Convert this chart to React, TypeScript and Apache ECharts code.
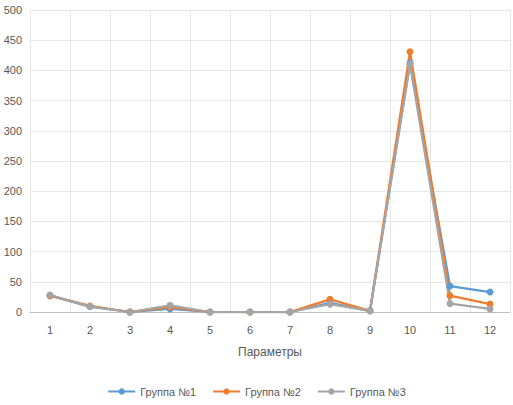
import React, { useEffect, useRef } from "react";
import * as echarts from "echarts";

const categories = ["1", "2", "3", "4", "5", "6", "7", "8", "9", "10", "11", "12"];
const group1 = [27, 9, 0, 5, 0, 0, 0, 15, 2, 412, 43, 33];
const group2 = [27, 10, 0, 8, 0, 0, 0, 21, 2, 431, 27, 13];
const group3 = [28, 9, 0, 11, 0, 0, 0, 13, 2, 410, 14, 5];
const seriesNames = ["Группа №1", "Группа №2", "Группа №3"];
const colors = ["#5B9BD5", "#ED7D31", "#A5A5A5"];
const axisTitle = "Параметры";

export default function App() {
  const ref = useRef<HTMLDivElement>(null);
  useEffect(() => {
    if (!ref.current) return;
    const chart = echarts.init(ref.current, undefined, { renderer: "svg" });
    const font = "'Liberation Sans', Arial, sans-serif";
    const data = [group1, group2, group3];
    chart.setOption({
      animation: false,
      textStyle: { fontFamily: font },
      grid: { left: 30, right: 3, top: 10, bottom: 93, containLabel: false },
      legend: {
        bottom: 3,
        left: "center",
        itemWidth: 27,
        itemHeight: 8,
        itemGap: 16,
        itemTextGap: 2,
        textStyle: { color: "#595959", fontSize: 11, fontFamily: font },
        data: seriesNames,
      },
      xAxis: {
        type: "category",
        data: categories,
        boundaryGap: true,
        name: axisTitle,
        nameLocation: "middle",
        nameGap: 34,
        nameTextStyle: { color: "#595959", fontSize: 12, fontFamily: font },
        axisLine: { lineStyle: { color: "#BFBFBF" } },
        axisTick: { show: false },
        axisLabel: { color: "#595959", fontSize: 11, margin: 12 },
        splitLine: { show: true, lineStyle: { color: "#E6E6E6" } },
      },
      yAxis: {
        type: "value",
        min: 0,
        max: 500,
        interval: 50,
        axisLine: { show: false },
        axisTick: { show: false },
        axisLabel: { color: "#595959", fontSize: 11, margin: 8 },
        splitLine: { lineStyle: { color: "#E6E6E6" } },
      },
      series: data.map((d, i) => ({
        name: seriesNames[i],
        type: "line",
        data: d,
        symbol: "circle",
        symbolSize: 7,
        itemStyle: { color: colors[i] },
        lineStyle: { color: colors[i], width: 2.25 },
      })),
    });
    return () => chart.dispose();
  }, []);
  return <div ref={ref} style={{ width: 513, height: 405, position: "absolute", left: 0, top: 0 }} />;
}
